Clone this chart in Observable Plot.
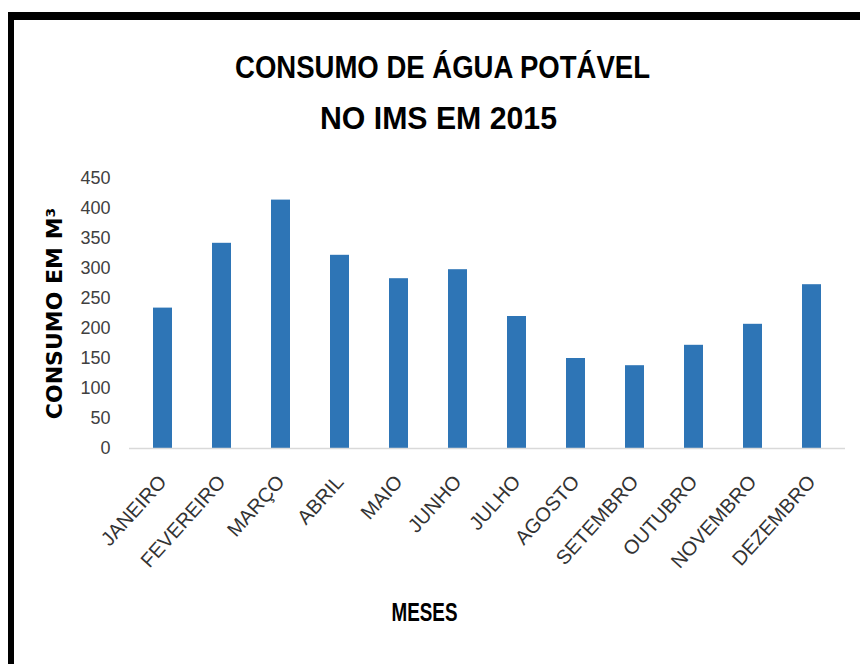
<!DOCTYPE html>
<html>
<head>
<meta charset="utf-8">
<script src="https://cdn.jsdelivr.net/npm/d3@7"></script>
<script src="https://cdn.jsdelivr.net/npm/@observablehq/plot@0.6"></script>
<style>
  html, body { margin: 0; padding: 0; background: #fff; overflow: hidden; }
  #wrap { position: relative; width: 860px; height: 664px; overflow: hidden; }
  #frame { position: absolute; left: 8px; top: 12px; width: 900px; height: 700px;
           border-left: 6px solid #000; border-top: 8px solid #000; box-sizing: border-box; }
  #chart { position: absolute; left: 0; top: 0; }
</style>
</head>
<body>
<div id="wrap">
  <div id="chart"></div>
  <div id="frame"></div>
</div>
<script>
const months = ["JANEIRO","FEVEREIRO","MARÇO","ABRIL","MAIO","JUNHO","JULHO","AGOSTO","SETEMBRO","OUTUBRO","NOVEMBRO","DEZEMBRO"];
const consumo = [234, 342, 414, 322, 283, 298, 220, 150, 138, 172, 207, 273];
const yTicks = [0, 50, 100, 150, 200, 250, 300, 350, 400, 450];
const titleLines = ["CONSUMO DE ÁGUA POTÁVEL", "NO IMS EM 2015"];
const yTitle = "CONSUMO EM M³";
const xTitle = "MESES";

const data = months.map((m, i) => ({mes: m, valor: consumo[i]}));

const sans = "'Liberation Sans', Arial, sans-serif";

const chart = Plot.plot({
  width: 860,
  height: 664,
  marginLeft: 129,
  marginRight: 15,
  marginTop: 178,
  marginBottom: 216,
  style: {background: "transparent", fontFamily: sans},
  x: {type: "band", domain: months, paddingInner: 0.68, paddingOuter: 0.34},
  y: {domain: [0, 450]},
  marks: [
    Plot.barY(data, {x: "mes", y: "valor", fill: "#2E75B6"}),
    Plot.ruleY([0], {stroke: "#d9d9d9", strokeWidth: 1.5}),
    Plot.axisY({ticks: yTicks, tickSize: 0, tickPadding: 19, fontSize: 18, fill: "#404040", label: null}),
    Plot.axisX({tickSize: 0, tickPadding: 30, tickRotate: -48, fontSize: 20, fill: "#333333", label: null}),
    Plot.text([titleLines[0]], {frameAnchor: "top-left", dx: 313, dy: -101, lineAnchor: "bottom",
      fontSize: 31, fontWeight: "bold", fill: "#000", textAnchor: "middle", className: "t1"}),
    Plot.text([titleLines[1]], {frameAnchor: "top-left", dx: 309, dy: -50, lineAnchor: "bottom",
      fontSize: 31, fontWeight: "bold", fill: "#000", textAnchor: "middle", className: "t2"}),
    Plot.text([yTitle], {frameAnchor: "left", dx: -75, rotate: -90, fontSize: 22, fontWeight: "bold",
      fontFamily: "'DejaVu Sans', sans-serif", fill: "#000", textAnchor: "middle"}),
    Plot.text([xTitle], {frameAnchor: "bottom-left", dx: 295, dy: 172, lineAnchor: "bottom",
      fontSize: 26, fontWeight: "bold", fill: "#000", textAnchor: "middle", className: "t3"})
  ]
});
// condense the title texts like the narrow bold face of the original
[["t1", 415], ["t2", 237], ["t3", 66]].forEach(([cls, len]) => {
  chart.querySelectorAll(`g.${cls} text`).forEach(t => {
    t.setAttribute("textLength", len);
    t.setAttribute("lengthAdjust", "spacingAndGlyphs");
  });
});
document.getElementById("chart").appendChild(chart);
</script>
</body>
</html>
